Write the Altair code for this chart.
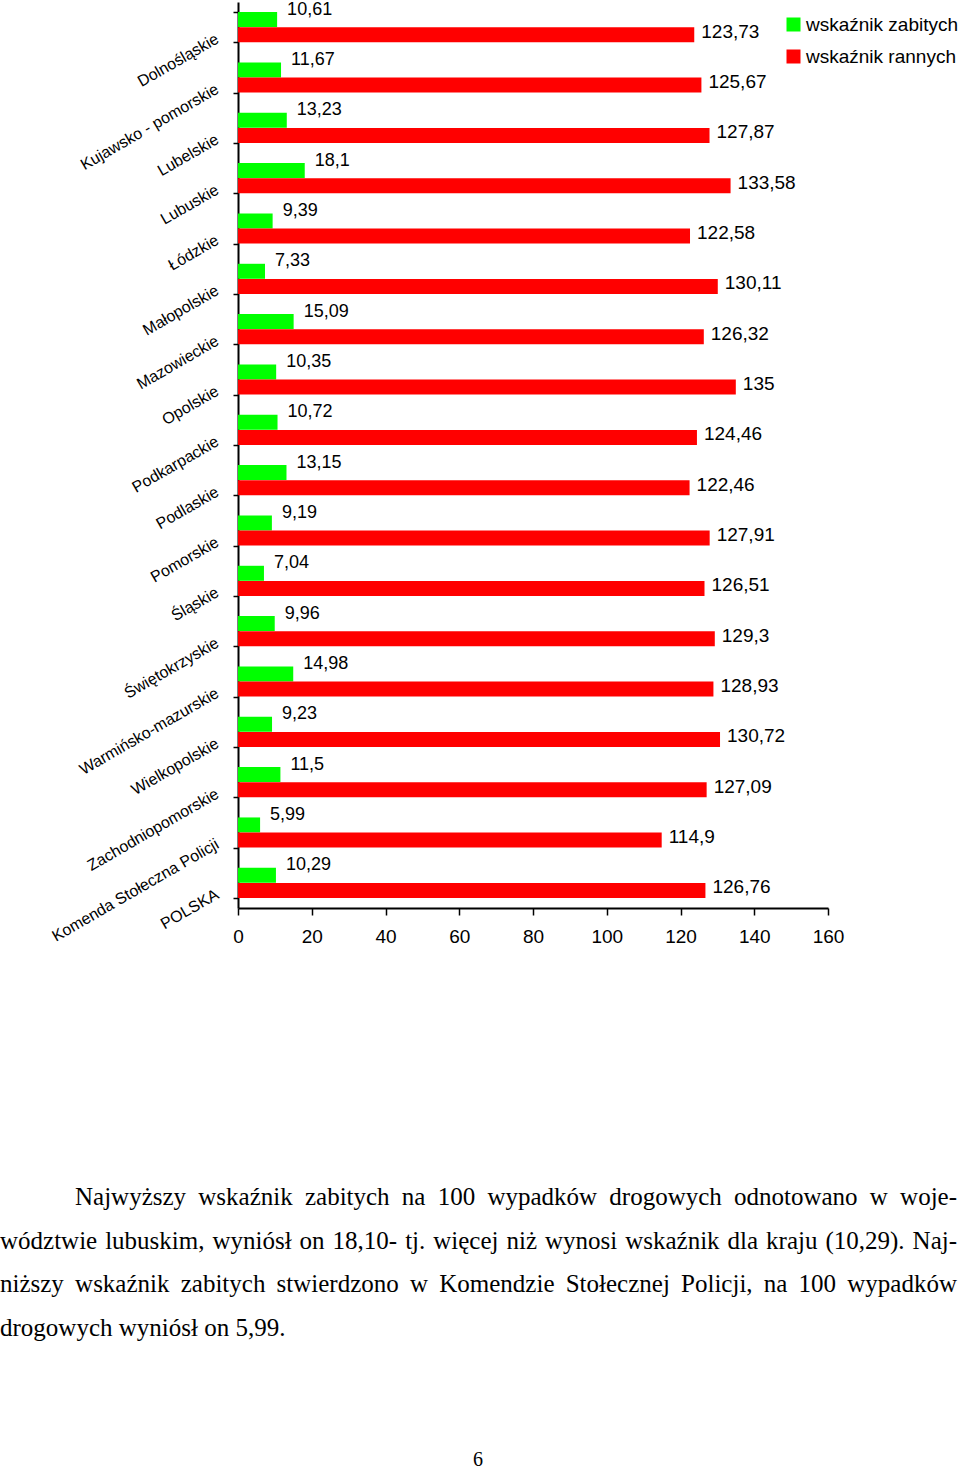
import altair as alt
import pandas as pd

categories = ["Dolnośląskie", "Kujawsko - pomorskie", "Lubelskie", "Lubuskie", "Łódzkie",
              "Małopolskie", "Mazowieckie", "Opolskie", "Podkarpackie", "Podlaskie",
              "Pomorskie", "Śląskie", "Świętokrzyskie", "Warmińsko-mazurskie", "Wielkopolskie",
              "Zachodniopomorskie", "Komenda Stołeczna Policji", "POLSKA"]
zabitych = [10.61, 11.67, 13.23, 18.1, 9.39, 7.33, 15.09, 10.35, 10.72, 13.15,
            9.19, 7.04, 9.96, 14.98, 9.23, 11.5, 5.99, 10.29]
rannych = [123.73, 125.67, 127.87, 133.58, 122.58, 130.11, 126.32, 135, 124.46, 122.46,
           127.91, 126.51, 129.3, 128.93, 130.72, 127.09, 114.9, 126.76]
series_names = ["wskaźnik zabitych", "wskaźnik rannych"]
series_colors = ["#00FF00", "#FF0000"]
x_ticks = [0, 20, 40, 60, 80, 100, 120, 140, 160]

paragraph_lines = [
    "Najwyższy wskaźnik zabitych na 100 wypadków drogowych odnotowano w woje-",
    "wództwie lubuskim, wyniósł on 18,10- tj. więcej niż wynosi wskaźnik dla kraju (10,29). Naj-",
    "niższy wskaźnik zabitych stwierdzono w Komendzie Stołecznej Policji, na 100 wypadków",
    "drogowych wyniósł on 5,99.",
]
page_number = "6"

W, H = 590, 906
OX, OY = 238, 2  # plot origin on page


def fmt(v):
    s = ("%.2f" % v).rstrip("0").rstrip(".")
    return s.replace(".", ",")


rows = []
for c, z, r in zip(categories, zabitych, rannych):
    rows.append({"cat": c, "series": series_names[0], "value": z, "label": fmt(z)})
    rows.append({"cat": c, "series": series_names[1], "value": r, "label": fmt(r)})
df = pd.DataFrame(rows)

FONT = "Liberation Sans"

y_enc = alt.Y("cat:N", sort=categories,
              scale=alt.Scale(paddingInner=0.4, paddingOuter=0.2),
              axis=alt.Axis(title=None, labelAngle=330, labelAlign="right", labelBaseline="middle",
                            labelFontSize=16, labelFont=FONT, labelColor="black",
                            labelPadding=16, labelOffset=10, tickBand="extent",
                            tickSize=5, tickColor="black", tickWidth=1.5,
                            domainColor="black", domainWidth=2, labelLimit=400))
yoff = alt.YOffset("series:N", sort=series_names, scale=alt.Scale(paddingInner=0, paddingOuter=0))
x_enc = alt.X("value:Q", scale=alt.Scale(domain=[0, 160], nice=False),
              axis=alt.Axis(title=None, values=x_ticks, grid=False, labelFontSize=19, labelFont=FONT,
                            labelColor="black", tickSize=7, tickColor="black", tickWidth=1.5,
                            domainColor="black", domainWidth=2, labelPadding=12, labelFlush=False))

bars = alt.Chart(df).mark_bar(size=15).encode(
    y=y_enc, yOffset=yoff, x=x_enc,
    color=alt.Color("series:N", sort=series_names,
                    scale=alt.Scale(domain=series_names, range=series_colors),
                    legend=alt.Legend(orient="none", legendX=546, legendY=13, title=None,
                                      symbolType="square", symbolSize=196, symbolStrokeWidth=0,
                                      labelFontSize=19, labelFont=FONT, labelColor="black",
                                      rowPadding=12, labelOffset=3, labelLimit=400)),
)

lab_z = alt.Chart(df).transform_filter(alt.datum.series == series_names[0]).mark_text(
    align="left", baseline="middle", dx=10, dy=-10, fontSize=18, font=FONT, color="black"
).encode(y=alt.Y("cat:N", sort=categories), yOffset=yoff, x="value:Q", text="label:N")

lab_r = alt.Chart(df).transform_filter(alt.datum.series == series_names[1]).mark_text(
    align="left", baseline="middle", dx=7, dy=-3, fontSize=19, font=FONT, color="black"
).encode(y=alt.Y("cat:N", sort=categories), yOffset=yoff, x="value:Q", text="label:N")

# Justified paragraph (Times metrics for layout)
tw = {' ': 250, 'a': 444, 'b': 500, 'c': 444, 'd': 500, 'e': 444, 'f': 333, 'g': 500, 'h': 500,
      'i': 278, 'j': 278, 'k': 500, 'l': 278, 'm': 778, 'n': 500, 'o': 500, 'p': 500, 'q': 500,
      'r': 333, 's': 389, 't': 278, 'u': 500, 'v': 500, 'w': 722, 'x': 500, 'y': 500, 'z': 444,
      'ż': 444, 'ź': 444, 'ś': 389, 'ó': 500, 'ł': 278, 'ę': 444, 'ć': 444, 'ń': 500, 'ą': 444,
      'K': 722, 'N': 722, 'P': 556, 'S': 556, ',': 250, '.': 250, '-': 333, '(': 333, ')': 333}
FS = 25


def width(word):
    return sum(tw.get(ch, 500) for ch in word) * FS / 1000.0


line_y = [1197, 1241, 1284, 1328]
line_x0 = [75, 0, 0, 0]
line_x1 = 957
words = []
for i, line in enumerate(paragraph_lines):
    ws = line.split(" ")
    wid = [width(w) for w in ws]
    if i < len(paragraph_lines) - 1:
        gap = (line_x1 - line_x0[i] - sum(wid)) / (len(ws) - 1)
    else:
        gap = width(" ")
    x = line_x0[i]
    for w, wd in zip(ws, wid):
        words.append({"px": x - OX, "py": line_y[i] - OY, "t": w, "fs": FS})
        x += wd + gap
wdf = pd.DataFrame(words)
pdf = pd.DataFrame([{"px": 478 - OX, "py": 1460 - OY, "t": page_number}])

para = alt.Chart(wdf).mark_text(align="left", baseline="middle", fontSize=FS,
                                font="Liberation Serif", color="black").encode(
    x=alt.X("px:Q", scale=None), y=alt.Y("py:Q", scale=None), text="t:N")
pnum = alt.Chart(pdf).mark_text(align="center", baseline="middle", fontSize=20,
                                font="Liberation Serif", color="black").encode(
    x=alt.X("px:Q", scale=None), y=alt.Y("py:Q", scale=None), text="t:N")

chart = alt.layer(bars, lab_z, lab_r, para, pnum).properties(
    width=W, height=H,
    background="white",
    autosize=alt.AutoSizeParams(type="none"),
    padding={"left": OX, "top": OY, "right": 960 - OX - W, "bottom": 1470 - OY - H},
).configure_view(stroke=None)

chart.save("out.html", embed_options={"renderer": "svg", "actions": False})
